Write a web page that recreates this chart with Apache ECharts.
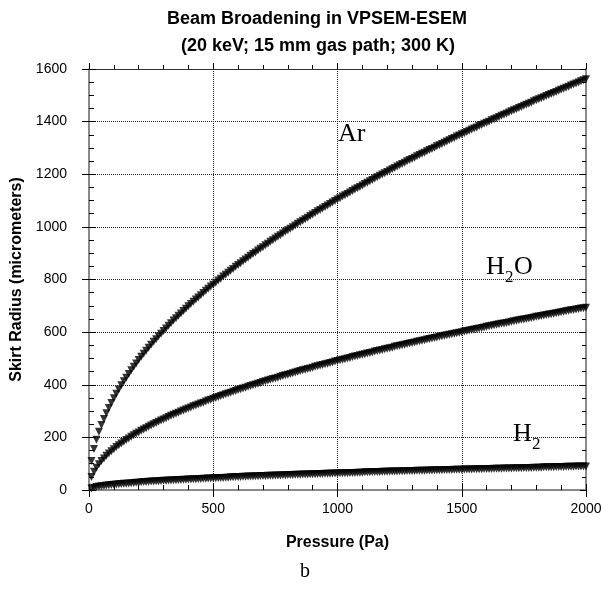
<!DOCTYPE html>
<html>
<head>
<meta charset="utf-8">
<script src="https://cdn.jsdelivr.net/npm/echarts@6/dist/echarts.min.js"></script>
<style>
html,body{margin:0;padding:0;background:#fff;}
#chart{width:610px;height:594px;}
</style>
</head>
<body>
<div id="chart"></div>
<script>
var titleLines = ['Beam Broadening in VPSEM-ESEM', '(20 keV; 15 mm gas path; 300 K)'];
var xAxisName = 'Pressure (Pa)';
var yAxisName = 'Skirt Radius (micrometers)';
var seriesNames = ['Ar', 'H2O', 'H2'];

var pressure = [10,20,30,40,50,60,70,80,90,100,110,120,130,140,150,160,170,180,190,200,
210,220,230,240,250,260,270,280,290,300,310,320,330,340,350,360,370,380,390,400,
410,420,430,440,450,460,470,480,490,500,510,520,530,540,550,560,570,580,590,600,
610,620,630,640,650,660,670,680,690,700,710,720,730,740,750,760,770,780,790,800,
810,820,830,840,850,860,870,880,890,900,910,920,930,940,950,960,970,980,990,1000,
1010,1020,1030,1040,1050,1060,1070,1080,1090,1100,1110,1120,1130,1140,1150,1160,1170,1180,1190,1200,
1210,1220,1230,1240,1250,1260,1270,1280,1290,1300,1310,1320,1330,1340,1350,1360,1370,1380,1390,1400,
1410,1420,1430,1440,1450,1460,1470,1480,1490,1500,1510,1520,1530,1540,1550,1560,1570,1580,1590,1600,
1610,1620,1630,1640,1650,1660,1670,1680,1690,1700,1710,1720,1730,1740,1750,1760,1770,1780,1790,1800,
1810,1820,1830,1840,1850,1860,1870,1880,1890,1900,1910,1920,1930,1940,1950,1960,1970,1980,1990,2000];

var arRadius = [110,156,191,221,247,270,292,312,331,349,366,382,398,413,427,441,455,468,481,494,
506,518,529,541,552,563,573,584,594,604,614,624,634,644,653,662,671,680,689,698,
707,715,724,732,740,749,757,765,773,780,788,796,803,811,818,826,833,840,848,855,
862,869,876,883,890,897,903,910,917,923,930,936,943,949,956,962,968,975,981,987,
993,999,1005,1012,1018,1023,1029,1035,1041,1047,1053,1059,1064,1070,1076,1081,1087,1093,1098,1104,
1109,1115,1120,1125,1131,1136,1142,1147,1152,1157,1163,1168,1173,1178,1184,1189,1194,1199,1204,1209,
1214,1219,1224,1229,1234,1239,1244,1249,1254,1258,1263,1268,1273,1278,1282,1287,1292,1296,1301,1306,
1310,1315,1320,1324,1329,1334,1338,1343,1347,1352,1356,1361,1365,1370,1374,1378,1383,1387,1392,1396,
1400,1405,1409,1413,1418,1422,1426,1430,1435,1439,1443,1447,1452,1456,1460,1464,1468,1472,1477,1481,
1485,1489,1493,1497,1501,1505,1509,1513,1517,1521,1525,1529,1533,1537,1541,1545,1549,1553,1557,1561];

var h2oRadius = [49,69,85,98,110,120,130,139,147,155,163,170,177,183,190,196,202,208,214,219,
225,230,235,240,245,250,255,259,264,268,273,277,282,286,290,294,298,302,306,310,
314,318,321,325,329,332,336,340,343,347,350,353,357,360,364,367,370,373,376,380,
383,386,389,392,395,398,401,404,407,410,413,416,419,422,424,427,430,433,436,438,
441,444,447,449,452,455,457,460,462,465,468,470,473,475,478,480,483,485,488,490,
493,495,497,500,502,505,507,509,512,514,516,519,521,523,526,528,530,532,535,537,
539,541,544,546,548,550,552,555,557,559,561,563,565,567,569,572,574,576,578,580,
582,584,586,588,590,592,594,596,598,600,602,604,606,608,610,612,614,616,618,620,
622,624,626,628,630,632,633,635,637,639,641,643,645,647,648,650,652,654,656,658,
659,661,663,665,667,668,670,672,674,676,677,679,681,683,684,686,688,690,691,693];

var h2Radius = [6,9,11,13,14,15,17,18,19,20,21,22,23,24,24,25,26,27,28,28,
29,30,30,31,32,32,33,33,34,35,35,36,36,37,37,38,38,39,39,40,
40,41,41,42,42,43,43,44,44,45,45,46,46,46,47,47,48,48,49,49,
49,50,50,51,51,51,52,52,53,53,53,54,54,54,55,55,55,56,56,57,
57,57,58,58,58,59,59,59,60,60,60,61,61,61,62,62,62,63,63,63,
64,64,64,64,65,65,65,66,66,66,67,67,67,68,68,68,68,69,69,69,
70,70,70,70,71,71,71,72,72,72,72,73,73,73,73,74,74,74,75,75,
75,75,76,76,76,76,77,77,77,77,78,78,78,78,79,79,79,79,80,80,
80,80,81,81,81,81,82,82,82,82,83,83,83,83,84,84,84,84,85,85,
85,85,86,86,86,86,86,87,87,87,87,88,88,88,88,89,89,89,89,89];

function pairs(ys) {
  return pressure.map(function (p, i) { return [p, ys[i]]; });
}

var chart = echarts.init(document.getElementById('chart'), null, {renderer: 'canvas'});

var GRID = {left: 89, right: 24, top: 69, bottom: 104};
var axisGray = '#8a8a8a';
var sans = '"Liberation Sans", Arial, sans-serif';
var serif = '"Liberation Serif", "Times New Roman", serif';
function plain(v) { return String(v); }

function baseX(extra) {
  var o = {
    type: 'value', min: 0, max: 2000, interval: 500,
    axisLine: {show: false}, axisTick: {show: false}, axisLabel: {show: false},
    splitLine: {show: false}, minorTick: {show: false}
  };
  for (var k in extra) o[k] = extra[k];
  return o;
}
function baseY(extra) {
  var o = {
    type: 'value', min: 0, max: 1600, interval: 200,
    axisLine: {show: false}, axisTick: {show: false}, axisLabel: {show: false},
    splitLine: {show: false}, minorTick: {show: false}
  };
  for (var k in extra) o[k] = extra[k];
  return o;
}

var tickStyle = {color: '#000', width: 1};
var markerStyle = {color: '#000'};

var option = {
  backgroundColor: '#fff',
  animation: false,
  grid: GRID,
  xAxis: [
    baseX({
      position: 'bottom',
      axisLine: {show: true, onZero: false, lineStyle: {color: axisGray, width: 2}},
      axisTick: {show: true, inside: false, length: 7, lineStyle: tickStyle},
      axisLabel: {show: true, color: '#000', fontFamily: sans, fontSize: 14, margin: 12, formatter: plain},
      splitLine: {show: true, lineStyle: {type: [1, 1], color: '#222', width: 1}},
      name: xAxisName, nameLocation: 'middle', nameGap: 45,
      nameTextStyle: {color: '#000', fontFamily: sans, fontSize: 16, fontWeight: 'bold'}
    }),
    baseX({
      position: 'bottom',
      axisTick: {show: true, inside: true, length: 6, lineStyle: tickStyle},
      minorTick: {show: true, splitNumber: 5, length: 5, lineStyle: tickStyle}
    }),
    baseX({
      position: 'top',
      axisLine: {show: true, onZero: false, lineStyle: {color: '#333', width: 1}},
      axisTick: {show: true, inside: false, length: 6, lineStyle: tickStyle},
      minorTick: {show: true, splitNumber: 5, length: 4, lineStyle: tickStyle}
    })
  ],
  yAxis: [
    baseY({
      position: 'left',
      axisLine: {show: true, onZero: false, lineStyle: {color: axisGray, width: 2}},
      axisTick: {show: true, inside: false, length: 7, lineStyle: tickStyle},
      axisLabel: {show: true, color: '#000', fontFamily: sans, fontSize: 14, margin: 22, formatter: plain},
      splitLine: {show: true, lineStyle: {type: [1, 1], color: '#222', width: 1}},
      name: yAxisName, nameLocation: 'middle', nameGap: 56, nameRotate: 90,
      nameTextStyle: {color: '#000', fontFamily: sans, fontSize: 16, fontWeight: 'bold'}
    }),
    baseY({
      position: 'left',
      axisTick: {show: true, inside: true, length: 6, lineStyle: tickStyle},
      minorTick: {show: true, splitNumber: 4, length: 5, lineStyle: tickStyle}
    }),
    baseY({
      position: 'right',
      axisLine: {show: true, onZero: false, lineStyle: {color: axisGray, width: 2}},
      axisTick: {show: true, inside: true, length: 6, lineStyle: tickStyle},
      minorTick: {show: true, splitNumber: 4, length: 4, lineStyle: tickStyle}
    }),
    baseY({
      position: 'right',
      axisTick: {show: true, inside: false, length: 7, lineStyle: tickStyle}
    })
  ],
  series: [
    {name: seriesNames[0], type: 'scatter', xAxisIndex: 0, yAxisIndex: 0, data: pairs(arRadius),
     symbol: 'triangle', symbolRotate: 180, symbolSize: 8, itemStyle: markerStyle},
    {name: seriesNames[1], type: 'scatter', xAxisIndex: 0, yAxisIndex: 0, data: pairs(h2oRadius),
     symbol: 'triangle', symbolRotate: 180, symbolSize: 8, itemStyle: markerStyle},
    {name: seriesNames[2], type: 'scatter', xAxisIndex: 0, yAxisIndex: 0, data: pairs(h2Radius),
     symbol: 'triangle', symbolRotate: 180, symbolSize: 8, itemStyle: markerStyle}
  ],
  graphic: [
    {type: 'text', x: 317, y: 19, style: {text: titleLines[0], font: 'bold 18px ' + sans, fill: '#000', textAlign: 'center', textVerticalAlign: 'middle'}},
    {type: 'text', x: 318, y: 46, style: {text: titleLines[1], font: 'bold 18px ' + sans, fill: '#000', textAlign: 'center', textVerticalAlign: 'middle'}},
    {type: 'text', x: 338, y: 134, style: {text: 'Ar', font: '26px ' + serif, fill: '#000', textAlign: 'left', textVerticalAlign: 'middle'}},
    {type: 'text', x: 486, y: 267, style: {text: 'H', font: '26px ' + serif, fill: '#000', textAlign: 'left', textVerticalAlign: 'middle'}},
    {type: 'text', x: 505, y: 278, style: {text: '2', font: '17px ' + serif, fill: '#000', textAlign: 'left', textVerticalAlign: 'middle'}},
    {type: 'text', x: 514, y: 267, style: {text: 'O', font: '26px ' + serif, fill: '#000', textAlign: 'left', textVerticalAlign: 'middle'}},
    {type: 'text', x: 513, y: 434, style: {text: 'H', font: '26px ' + serif, fill: '#000', textAlign: 'left', textVerticalAlign: 'middle'}},
    {type: 'text', x: 532, y: 445, style: {text: '2', font: '17px ' + serif, fill: '#000', textAlign: 'left', textVerticalAlign: 'middle'}},
    {type: 'text', x: 305, y: 572, style: {text: 'b', font: '20px ' + serif, fill: '#000', textAlign: 'center', textVerticalAlign: 'middle'}}
  ]
};
chart.setOption(option);
</script>
</body>
</html>
